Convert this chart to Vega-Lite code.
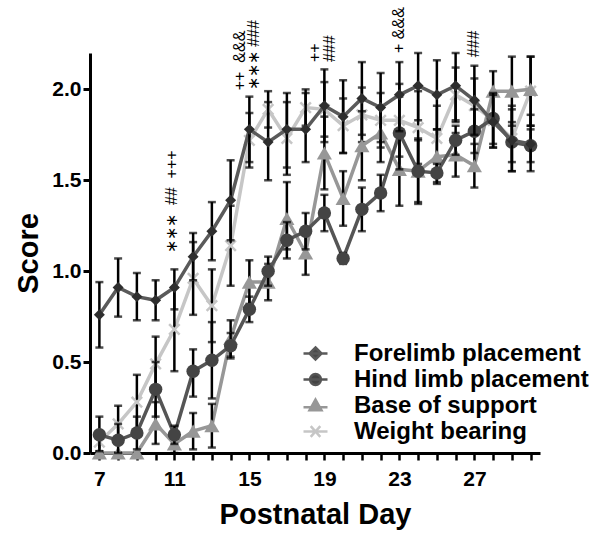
{
  "$schema": "https://vega.github.io/schema/vega-lite/v6.json",
  "autosize": {"type": "none"},
  "width": 450,
  "height": 400,
  "padding": {"left": 90, "top": 53, "right": 64, "bottom": 88},
  "background": "white",
  "config": {"view": {"stroke": null}, "font": "Liberation Sans"},
  "datasets": {
    "scores": [
      {"day":7,"series":"Weight bearing","mean":0.06,"lo":0.01,"hi":0.11},
      {"day":8,"series":"Weight bearing","mean":0.16,"lo":0.06,"hi":0.26},
      {"day":9,"series":"Weight bearing","mean":0.28,"lo":0.13,"hi":0.43},
      {"day":10,"series":"Weight bearing","mean":0.49,"lo":0.34,"hi":0.64},
      {"day":11,"series":"Weight bearing","mean":0.68,"lo":0.45,"hi":0.91},
      {"day":12,"series":"Weight bearing","mean":0.96,"lo":0.76,"hi":1.16},
      {"day":13,"series":"Weight bearing","mean":0.81,"lo":0.61,"hi":1.01},
      {"day":14,"series":"Weight bearing","mean":1.14,"lo":0.92,"hi":1.36},
      {"day":15,"series":"Weight bearing","mean":1.72,"lo":1.57,"hi":1.87},
      {"day":16,"series":"Weight bearing","mean":1.89,"lo":1.79,"hi":1.99},
      {"day":17,"series":"Weight bearing","mean":1.73,"lo":1.53,"hi":1.93},
      {"day":18,"series":"Weight bearing","mean":1.90,"lo":1.80,"hi":2.00},
      {"day":19,"series":"Weight bearing","mean":1.89,"lo":1.74,"hi":2.04},
      {"day":20,"series":"Weight bearing","mean":1.80,"lo":1.65,"hi":1.95},
      {"day":21,"series":"Weight bearing","mean":1.86,"lo":1.71,"hi":2.01},
      {"day":22,"series":"Weight bearing","mean":1.83,"lo":1.68,"hi":1.98},
      {"day":23,"series":"Weight bearing","mean":1.83,"lo":1.63,"hi":2.03},
      {"day":24,"series":"Weight bearing","mean":1.79,"lo":1.59,"hi":1.99},
      {"day":25,"series":"Weight bearing","mean":1.73,"lo":1.55,"hi":1.91},
      {"day":26,"series":"Weight bearing","mean":1.97,"lo":1.82,"hi":2.12},
      {"day":27,"series":"Weight bearing","mean":1.91,"lo":1.76,"hi":2.06},
      {"day":28,"series":"Weight bearing","mean":1.83,"lo":1.68,"hi":1.98},
      {"day":29,"series":"Weight bearing","mean":1.73,"lo":1.55,"hi":1.91},
      {"day":30,"series":"Weight bearing","mean":1.99,"lo":1.80,"hi":2.18},
      {"day":7,"series":"Base of support","mean":0.0,"lo":0.0,"hi":0.0},
      {"day":8,"series":"Base of support","mean":0.0,"lo":0.0,"hi":0.0},
      {"day":9,"series":"Base of support","mean":0.0,"lo":0.0,"hi":0.0},
      {"day":10,"series":"Base of support","mean":0.16,"lo":0.05,"hi":0.28},
      {"day":11,"series":"Base of support","mean":0.05,"lo":0.0,"hi":0.10},
      {"day":12,"series":"Base of support","mean":0.12,"lo":0.02,"hi":0.22},
      {"day":13,"series":"Base of support","mean":0.15,"lo":0.03,"hi":0.27},
      {"day":14,"series":"Base of support","mean":0.63,"lo":0.53,"hi":0.73},
      {"day":15,"series":"Base of support","mean":0.94,"lo":0.82,"hi":1.06},
      {"day":16,"series":"Base of support","mean":0.94,"lo":0.84,"hi":1.04},
      {"day":17,"series":"Base of support","mean":1.29,"lo":1.12,"hi":1.49},
      {"day":18,"series":"Base of support","mean":1.10,"lo":0.98,"hi":1.22},
      {"day":19,"series":"Base of support","mean":1.65,"lo":1.45,"hi":1.85},
      {"day":20,"series":"Base of support","mean":1.40,"lo":1.25,"hi":1.55},
      {"day":21,"series":"Base of support","mean":1.69,"lo":1.50,"hi":1.88},
      {"day":22,"series":"Base of support","mean":1.76,"lo":1.60,"hi":1.90},
      {"day":23,"series":"Base of support","mean":1.56,"lo":1.36,"hi":1.76},
      {"day":24,"series":"Base of support","mean":1.55,"lo":1.38,"hi":1.72},
      {"day":25,"series":"Base of support","mean":1.63,"lo":1.48,"hi":1.78},
      {"day":26,"series":"Base of support","mean":1.64,"lo":1.52,"hi":1.76},
      {"day":27,"series":"Base of support","mean":1.58,"lo":1.46,"hi":1.70},
      {"day":28,"series":"Base of support","mean":1.99,"lo":1.84,"hi":2.10},
      {"day":29,"series":"Base of support","mean":1.99,"lo":1.80,"hi":2.18},
      {"day":30,"series":"Base of support","mean":2.00,"lo":1.80,"hi":2.18},
      {"day":7,"series":"Hind limb placement","mean":0.10,"lo":0.01,"hi":0.20},
      {"day":8,"series":"Hind limb placement","mean":0.07,"lo":0.0,"hi":0.16},
      {"day":9,"series":"Hind limb placement","mean":0.11,"lo":0.02,"hi":0.20},
      {"day":10,"series":"Hind limb placement","mean":0.35,"lo":0.20,"hi":0.50},
      {"day":11,"series":"Hind limb placement","mean":0.10,"lo":0.05,"hi":0.15},
      {"day":12,"series":"Hind limb placement","mean":0.45,"lo":0.31,"hi":0.57},
      {"day":13,"series":"Hind limb placement","mean":0.51,"lo":0.30,"hi":0.72},
      {"day":14,"series":"Hind limb placement","mean":0.59,"lo":0.52,"hi":0.66},
      {"day":15,"series":"Hind limb placement","mean":0.79,"lo":0.72,"hi":0.86},
      {"day":16,"series":"Hind limb placement","mean":1.00,"lo":0.92,"hi":1.08},
      {"day":17,"series":"Hind limb placement","mean":1.17,"lo":1.07,"hi":1.27},
      {"day":18,"series":"Hind limb placement","mean":1.22,"lo":1.12,"hi":1.32},
      {"day":19,"series":"Hind limb placement","mean":1.32,"lo":1.22,"hi":1.42},
      {"day":20,"series":"Hind limb placement","mean":1.07,"lo":1.04,"hi":1.10},
      {"day":21,"series":"Hind limb placement","mean":1.34,"lo":1.22,"hi":1.46},
      {"day":22,"series":"Hind limb placement","mean":1.43,"lo":1.33,"hi":1.53},
      {"day":23,"series":"Hind limb placement","mean":1.76,"lo":1.56,"hi":1.96},
      {"day":24,"series":"Hind limb placement","mean":1.55,"lo":1.37,"hi":1.73},
      {"day":25,"series":"Hind limb placement","mean":1.54,"lo":1.49,"hi":1.59},
      {"day":26,"series":"Hind limb placement","mean":1.72,"lo":1.64,"hi":1.80},
      {"day":27,"series":"Hind limb placement","mean":1.77,"lo":1.65,"hi":1.89},
      {"day":28,"series":"Hind limb placement","mean":1.84,"lo":1.70,"hi":1.98},
      {"day":29,"series":"Hind limb placement","mean":1.71,"lo":1.60,"hi":1.82},
      {"day":30,"series":"Hind limb placement","mean":1.69,"lo":1.60,"hi":1.78},
      {"day":7,"series":"Forelimb placement","mean":0.76,"lo":0.58,"hi":0.94},
      {"day":8,"series":"Forelimb placement","mean":0.91,"lo":0.75,"hi":1.07},
      {"day":9,"series":"Forelimb placement","mean":0.86,"lo":0.73,"hi":0.99},
      {"day":10,"series":"Forelimb placement","mean":0.84,"lo":0.73,"hi":0.95},
      {"day":11,"series":"Forelimb placement","mean":0.91,"lo":0.79,"hi":1.01},
      {"day":12,"series":"Forelimb placement","mean":1.08,"lo":0.95,"hi":1.21},
      {"day":13,"series":"Forelimb placement","mean":1.22,"lo":1.06,"hi":1.38},
      {"day":14,"series":"Forelimb placement","mean":1.39,"lo":1.17,"hi":1.61},
      {"day":15,"series":"Forelimb placement","mean":1.78,"lo":1.60,"hi":1.96},
      {"day":16,"series":"Forelimb placement","mean":1.71,"lo":1.50,"hi":1.93},
      {"day":17,"series":"Forelimb placement","mean":1.78,"lo":1.57,"hi":1.98},
      {"day":18,"series":"Forelimb placement","mean":1.78,"lo":1.60,"hi":1.98},
      {"day":19,"series":"Forelimb placement","mean":1.91,"lo":1.71,"hi":2.11},
      {"day":20,"series":"Forelimb placement","mean":1.85,"lo":1.65,"hi":2.05},
      {"day":21,"series":"Forelimb placement","mean":1.95,"lo":1.75,"hi":2.15},
      {"day":22,"series":"Forelimb placement","mean":1.90,"lo":1.71,"hi":2.09},
      {"day":23,"series":"Forelimb placement","mean":1.97,"lo":1.77,"hi":2.15},
      {"day":24,"series":"Forelimb placement","mean":2.02,"lo":1.83,"hi":2.20},
      {"day":25,"series":"Forelimb placement","mean":1.97,"lo":1.78,"hi":2.16},
      {"day":26,"series":"Forelimb placement","mean":2.02,"lo":1.83,"hi":2.20},
      {"day":27,"series":"Forelimb placement","mean":1.94,"lo":1.75,"hi":2.13},
      {"day":28,"series":"Forelimb placement","mean":1.82,"lo":1.68,"hi":1.97},
      {"day":29,"series":"Forelimb placement","mean":1.72,"lo":1.55,"hi":1.89},
      {"day":30,"series":"Forelimb placement","mean":1.70,"lo":1.55,"hi":1.86}
    ],
    "annots": [
      {"day":10.85,"yv":1.10,"label":"\u2217\u2217\u2217\u00a0\u00a0##\u00a0\u00a0+++"},
      {"day":14.52,"yv":1.995,"label":"++\u00a0\u00a0&&&"},
      {"day":15.23,"yv":1.995,"label":"\u2217\u2217\u2217\u00a0###"},
      {"day":18.49,"yv":2.15,"label":"++"},
      {"day":19.29,"yv":2.15,"label":"###"},
      {"day":22.96,"yv":2.2,"label":"+\u00a0&&&"},
      {"day":26.96,"yv":2.176,"label":"###"}
    ]
  },
  "encoding": {
    "x": {
      "field": "day", "type": "quantitative", "title": "Postnatal Day",
      "scale": {"domain": [6.5, 30.5], "nice": false, "zero": false},
      "axis": {
        "values": [7,8,9,10,11,12,13,14,15,16,17,18,19,20,21,22,23,24,25,26,27,28,29,30],
        "labelExpr": "indexof([7,11,15,19,23,27], datum.value) >= 0 ? datum.label : ''",
        "labelOverlap": false, "labelFlush": false, "grid": false,
        "domainColor": "black", "domainWidth": 3,
        "tickColor": "black", "tickWidth": 2.5, "tickSize": 7,
        "labelFont": "Liberation Sans", "labelFontWeight": "bold", "labelFontSize": 21, "labelColor": "black", "labelPadding": 8,
        "titleFont": "Liberation Sans", "titleFontWeight": "bold", "titleFontSize": 29, "titleColor": "black", "titlePadding": 11
      }
    },
    "y": {
      "field": "mean", "type": "quantitative", "title": "Score",
      "scale": {"domain": [0, 2.2], "nice": false, "zero": true},
      "axis": {
        "values": [0, 0.5, 1, 1.5, 2], "format": ".1f", "grid": false,
        "domainColor": "black", "domainWidth": 3,
        "tickColor": "black", "tickWidth": 3, "tickSize": 7,
        "labelFont": "Liberation Sans", "labelFontWeight": "bold", "labelFontSize": 21, "labelColor": "black", "labelPadding": 2,
        "titleFont": "Liberation Sans", "titleFontWeight": "bold", "titleFontSize": 29, "titleColor": "black", "titlePadding": 8
      }
    }
  },
  "layer": [
    {
      "data": {"name": "scores"},
      "transform": [{"filter": "datum.series === 'Weight bearing'"}],
      "layer": [
        {"mark": {"type": "line", "color": "#c6c6c6", "strokeWidth": 3.5}, "encoding": {}},
        {"mark": {"type": "errorbar", "color": "black", "thickness": 2.5, "ticks": {"size": 8}},
         "encoding": {"y": {"field": "lo", "type": "quantitative", "title": "Score"}, "y2": {"field": "hi"}}},
        {"mark": {"type": "point", "shape": "M-1,-1L1,1M-1,1L1,-1", "filled": false, "color": "#c6c6c6", "strokeWidth": 2.5, "size": 110, "opacity": 1}, "encoding": {}}
      ]
    },
    {
      "data": {"name": "scores"},
      "transform": [{"filter": "datum.series === 'Base of support'"}],
      "layer": [
        {"mark": {"type": "line", "color": "#979797", "strokeWidth": 3.5}, "encoding": {}},
        {"mark": {"type": "errorbar", "color": "black", "thickness": 2.5, "ticks": {"size": 8}},
         "encoding": {"y": {"field": "lo", "type": "quantitative", "title": "Score"}, "y2": {"field": "hi"}}},
        {"mark": {"type": "point", "shape": "triangle-up", "filled": true, "color": "#979797", "size": 230, "opacity": 1}, "encoding": {}}
      ]
    },
    {
      "data": {"name": "scores"},
      "transform": [{"filter": "datum.series === 'Hind limb placement'"}],
      "layer": [
        {"mark": {"type": "line", "color": "#555555", "strokeWidth": 3.5}, "encoding": {}},
        {"mark": {"type": "errorbar", "color": "black", "thickness": 2.5, "ticks": {"size": 8}},
         "encoding": {"y": {"field": "lo", "type": "quantitative", "title": "Score"}, "y2": {"field": "hi"}}},
        {"mark": {"type": "point", "shape": "circle", "filled": true, "color": "#444444", "size": 180, "opacity": 1}, "encoding": {}}
      ]
    },
    {
      "data": {"name": "scores"},
      "transform": [{"filter": "datum.series === 'Forelimb placement'"}],
      "layer": [
        {"mark": {"type": "line", "color": "#5a5a5a", "strokeWidth": 3.5}, "encoding": {}},
        {"mark": {"type": "errorbar", "color": "black", "thickness": 2.5, "ticks": {"size": 8}},
         "encoding": {"y": {"field": "lo", "type": "quantitative", "title": "Score"}, "y2": {"field": "hi"}}},
        {"mark": {"type": "point", "shape": "diamond", "filled": true, "color": "#2e2e2e", "size": 120, "opacity": 1}, "encoding": {}}
      ]
    },
    {
      "data": {"name": "annots"},
      "mark": {"type": "text", "angle": 270, "align": "left", "baseline": "middle", "fontSize": 16, "font": "Liberation Sans", "color": "black"},
      "encoding": {
        "y": {"field": "yv", "type": "quantitative", "title": "Score"},
        "text": {"field": "label"}
      }
    },
    {
      "data": {"name": "scores"},
      "transform": [{"filter": "datum.mean > 100"}],
      "mark": {"type": "point", "filled": true, "strokeWidth": 2.5, "opacity": 1},
      "encoding": {
        "color": {
          "field": "series", "type": "nominal",
          "scale": {"domain": ["Forelimb placement", "Hind limb placement", "Base of support", "Weight bearing"], "range": ["#4a4a4a", "#444444", "#979797", "#c6c6c6"]},
          "legend": {"orient": "none", "legendX": 212, "legendY": 287, "title": null, "labelFont": "Liberation Sans", "labelFontWeight": "bold", "labelFontSize": 24, "labelColor": "black", "labelOffset": 25, "symbolSize": 576, "symbolStrokeWidth": 2.5, "rowPadding": -2, "labelLimit": 400}
        },
        "stroke": {
          "field": "series", "type": "nominal",
          "scale": {"domain": ["Forelimb placement", "Hind limb placement", "Base of support", "Weight bearing"], "range": ["#5a5a5a", "#555555", "#979797", "#c6c6c6"]},
          "legend": {"orient": "none", "legendX": 212, "legendY": 287, "title": null, "labelFont": "Liberation Sans", "labelFontWeight": "bold", "labelFontSize": 24, "labelColor": "black", "labelOffset": 25, "symbolSize": 576, "symbolStrokeWidth": 2.5, "rowPadding": -2, "labelLimit": 400}
        },
        "shape": {
          "field": "series", "type": "nominal",
          "scale": {"domain": ["Forelimb placement", "Hind limb placement", "Base of support", "Weight bearing"],
                    "range": ["M-1,0L1,0M0,-0.5L0.5,0L0,0.5L-0.5,0Z", "M-1,0L1,0M0.45,0A0.45,0.45,0,1,1,-0.45,0A0.45,0.45,0,1,1,0.45,0Z", "M-1,0.15L1,0.15M0,-0.5L0.5,0.4L-0.5,0.4Z", "M-1,0L1,0M-0.4,-0.45L0.4,0.45M-0.4,0.45L0.4,-0.45"]},
          "legend": {"orient": "none", "legendX": 212, "legendY": 287, "title": null, "labelFont": "Liberation Sans", "labelFontWeight": "bold", "labelFontSize": 24, "labelColor": "black", "labelOffset": 25, "symbolSize": 576, "symbolStrokeWidth": 2.5, "rowPadding": -2, "labelLimit": 400}
        }
      }
    }
  ]
}
